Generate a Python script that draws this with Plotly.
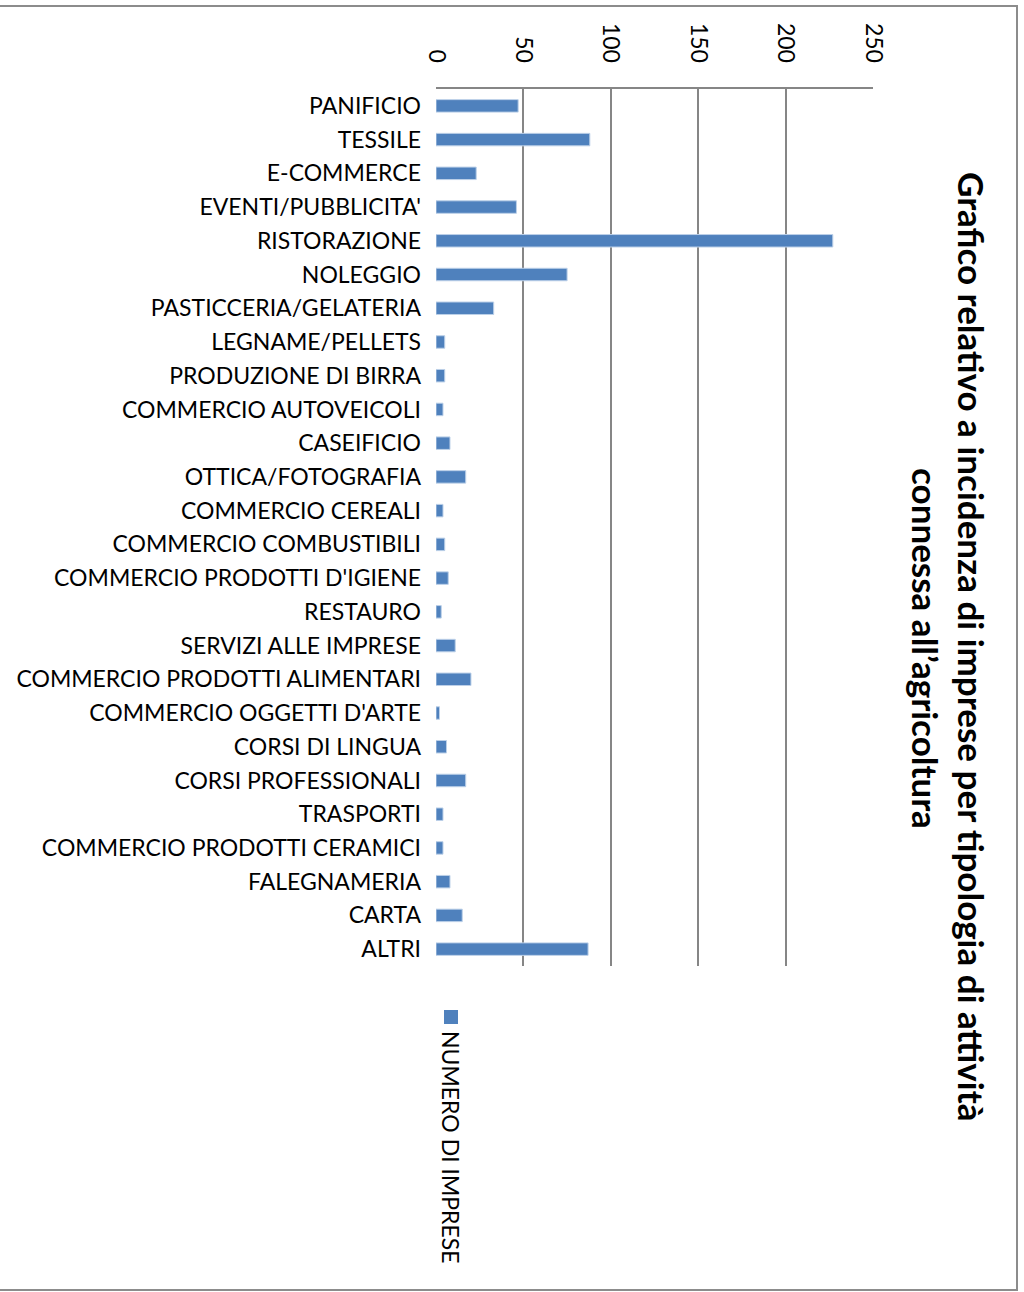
import plotly.graph_objects as go

categories = [
    "PANIFICIO", "TESSILE", "E-COMMERCE", "EVENTI/PUBBLICITA'", "RISTORAZIONE",
    "NOLEGGIO", "PASTICCERIA/GELATERIA", "LEGNAME/PELLETS", "PRODUZIONE DI BIRRA",
    "COMMERCIO AUTOVEICOLI", "CASEIFICIO", "OTTICA/FOTOGRAFIA", "COMMERCIO CEREALI",
    "COMMERCIO COMBUSTIBILI", "COMMERCIO PRODOTTI D'IGIENE", "RESTAURO",
    "SERVIZI ALLE IMPRESE", "COMMERCIO PRODOTTI ALIMENTARI", "COMMERCIO OGGETTI D'ARTE",
    "CORSI DI LINGUA", "CORSI PROFESSIONALI", "TRASPORTI", "COMMERCIO PRODOTTI CERAMICI",
    "FALEGNAMERIA", "CARTA", "ALTRI",
]
values = [47, 88, 23, 46, 227, 75, 33, 5, 5, 4, 8, 17, 4, 5, 7, 3, 11, 20, 2, 6, 17, 4, 4, 8, 15, 87]
series_name = "NUMERO DI IMPRESE"
title_line1 = "Grafico relativo a incidenza di imprese per tipologia di attività"
title_line2 = "connessa all\u2019agricoltura"
tick_values = [0, 50, 100, 150, 200, 250]

W, H = 1024, 1292
L, R, T, B = 436, 873, 89, 966
BAR = "#4F81BD"
GRID = "#868686"
FONT = "Lato"


def px(xp):
    return (xp - L) / (R - L)


def py(yp):
    return (B - yp) / (B - T)


fig = go.Figure()
fig.add_trace(go.Bar(
    y=categories, x=values, orientation="h", name=series_name,
    marker=dict(color=BAR, line=dict(color="#BCD0E8", width=1)),
    showlegend=False,
))

fig.update_layout(
    width=W, height=H,
    margin=dict(l=L, r=W - R, t=T, b=H - B),
    paper_bgcolor="white", plot_bgcolor="white",
    bargap=0.63,
    font=dict(family=FONT, color="black"),
    xaxis=dict(
        side="top", range=[0, 250], tickvals=tick_values,
        tickangle=90, tickfont=dict(size=23, family=FONT),
        showgrid=True, gridcolor=GRID, gridwidth=2,
        showline=True, linecolor=GRID, linewidth=2,
        zeroline=True, zerolinecolor="rgba(0,0,0,0)", zerolinewidth=1,
        ticks="", ticklabelstandoff=16,
    ),
    yaxis=dict(
        categoryorder="array", categoryarray=categories,
        autorange="reversed",
        tickfont=dict(size=23, family=FONT),
        showgrid=False, showline=False, zeroline=False,
        ticks="", ticklabelstandoff=14,
    ),
)

# title (rotated)
fig.add_annotation(text="<b>" + title_line1 + "</b>", xref="paper", yref="paper",
                   x=px(972), y=py(646), xanchor="center", yanchor="middle",
                   textangle=90, showarrow=False, font=dict(size=35, family=FONT))
fig.add_annotation(text="<b>" + title_line2 + "</b>", xref="paper", yref="paper",
                   x=px(926), y=py(648), xanchor="center", yanchor="middle",
                   textangle=90, showarrow=False, font=dict(size=35, family=FONT))

# legend (rotated)
fig.add_shape(type="rect", xref="paper", yref="paper",
              x0=px(444), x1=px(458), y0=py(1024), y1=py(1010),
              fillcolor=BAR, line=dict(width=0))
fig.add_annotation(text=series_name, xref="paper", yref="paper",
                   x=px(451), y=py(1147), xanchor="center", yanchor="middle",
                   textangle=90, showarrow=False, font=dict(size=23, family=FONT))

# chart border
fig.add_shape(type="rect", xref="paper", yref="paper",
              x0=px(-5), x1=px(1017), y0=py(1290), y1=py(6),
              line=dict(color="#8C8C8C", width=2), fillcolor="rgba(0,0,0,0)")

fig.write_html("out.html")
